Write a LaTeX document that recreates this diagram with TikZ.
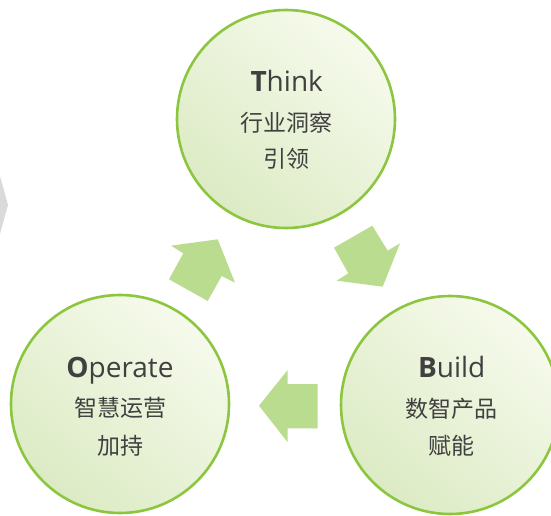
\documentclass[tikz,border=0pt]{standalone}
\usepackage{fontspec}
\setmainfont{Open Sans}
\newfontfamily\cjk{Noto Sans CJK SC}
\definecolor{ringgreen}{RGB}{140,198,63}
\definecolor{lightfill}{RGB}{246,250,236}
\definecolor{darkfill}{RGB}{220,235,196}
\definecolor{arrowgreen}{RGB}{186,220,142}
\definecolor{txt}{RGB}{64,64,64}
\definecolor{chev}{RGB}{218,218,218}
\begin{document}
\begin{tikzpicture}[x=1pt,y=-1pt,
  bubble/.style={circle, draw=ringgreen, line width=2.6pt, minimum size=218pt, inner sep=0pt,
    top color=lightfill, bottom color=darkfill, shading angle=-40},
  ttl/.style={anchor=base, text=txt, inner sep=0pt, font=\fontsize{28}{30}\selectfont},
  cn/.style={anchor=base, text=txt, inner sep=0pt, font=\cjk\fontsize{23}{26}\selectfont},
  blockarrow/.style={fill=arrowgreen}]
\useasboundingbox (0,0) rectangle (551,516);
\fill[white] (0,0) rectangle (551,516);
\clip (0,0) rectangle (551,516);
% gray chevron at left edge
\fill[chev] (0,176) -- (8,205) -- (0,234) -- cycle;
% circles
\node[bubble] (think) at (286,119) {};
\node[bubble] (operate) at (120,404) {};
\node[bubble] (build) at (450,405) {};
% texts
\node[ttl] (thinkT) at (286.7,91.7) {\textbf{T}hink};
\node[cn] (thinkA) at (286.2,131.5) {行业洞察};
\node[cn] (thinkB) at (286.2,167.3) {引领};
\node[ttl] (operateT) at (120,377.3) {\textbf{O}perate};
\node[cn] (operateA) at (120,416.5) {智慧运营};
\node[cn] (operateB) at (120,454.3) {加持};
\node[ttl] (buildT) at (451.7,377.7) {\textbf{B}uild};
\node[cn] (buildA) at (451.7,417.5) {数智产品};
\node[cn] (buildB) at (451.7,454.3) {赋能};
% block arrows
\fill[blockarrow] (217.7,239.3) -- (171,245.7) -- (183.3,253.3) -- (169,279.3)
  -- (207.7,301) -- (221.7,276) -- (235,282.7) -- cycle;
\fill[blockarrow] (334,247.7) -- (372.3,225.7) -- (387.7,250.7) -- (400,243.3)
  -- (382.7,286.7) -- (336.7,280.7) -- (348.3,273.3) -- cycle;
\fill[blockarrow] (259,405.7) -- (287.7,370) -- (287.7,384) -- (317.7,384)
  -- (317.7,428.3) -- (287.7,428.3) -- (287.7,442.3) -- cycle;
\end{tikzpicture}
\end{document}
